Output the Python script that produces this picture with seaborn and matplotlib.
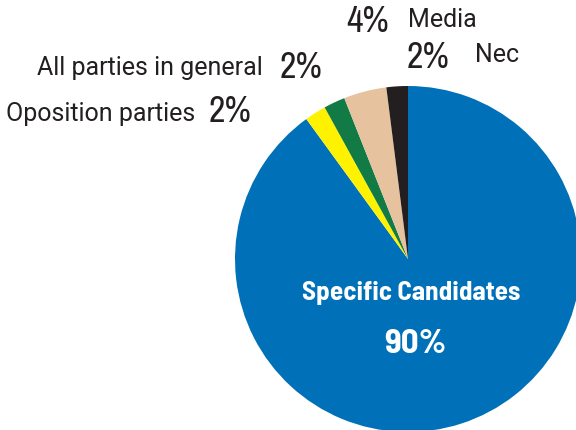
import matplotlib
matplotlib.use("Agg")
import matplotlib.pyplot as plt
import seaborn as sns

categories = ["Specific Candidates", "Oposition parties", "All parties in general", "Media", "Nec"]
values = [90, 2, 2, 4, 2]
colors = ["#0070b8", "#fff200", "#117a45", "#e6c29f", "#231f20"]

sns.set_theme(style="white")
plt.rcParams["font.family"] = ["Archivo Narrow", "DejaVu Sans"]
LAB_FONT = ["Roboto", "DejaVu Sans"]
BOLD_FONT = ["Barlow Semi Condensed", "DejaVu Sans"]

fig = plt.figure(figsize=(5.76, 4.31), dpi=100)
ax = fig.add_axes([0, 0, 1, 1])
W, H = 576, 431
cx, cy, r = 408, 260, 173

ax.pie(values, colors=colors, startangle=90, counterclock=False, radius=1,
       wedgeprops=dict(linewidth=0), frame=False)
ax.set_aspect("auto")
ax.set_xlim((0 - cx) / r, (W - cx) / r)
ax.set_ylim((cy - H) / r, (cy - 0) / r)
ax.axis("off")

def px(x, y):
    return x / W, 1 - y / H

tc = "#231f20"
lab = 18
num = 26
# center label
fig.text(*px(411, 293), categories[0], color="white", fontsize=19.5, fontweight="bold",
         family=BOLD_FONT, ha="center", va="center")
fig.text(*px(415, 344), f"{values[0]}%", color="white", fontsize=25, fontweight="bold",
         family=BOLD_FONT, ha="center", va="center")

# outer labels
fig.text(*px(263, 68), categories[2], color=tc, fontsize=lab, family=LAB_FONT, ha="right", va="center")
fig.text(*px(280, 67), f"{values[2]}%", color=tc, fontsize=num, ha="left", va="center")
fig.text(*px(195, 114), categories[1], color=tc, fontsize=lab, family=LAB_FONT, ha="right", va="center")
fig.text(*px(209, 112), f"{values[1]}%", color=tc, fontsize=num, ha="left", va="center")
fig.text(*px(346, 22), f"{values[3]}%", color=tc, fontsize=num, ha="left", va="center")
fig.text(*px(408, 20), categories[3], color=tc, fontsize=lab, family=LAB_FONT, ha="left", va="center")
fig.text(*px(407, 57), f"{values[4]}%", color=tc, fontsize=num, ha="left", va="center")
fig.text(*px(475, 55), categories[4], color=tc, fontsize=lab, family=LAB_FONT, ha="left", va="center")

fig.savefig("out.png", dpi=100)
